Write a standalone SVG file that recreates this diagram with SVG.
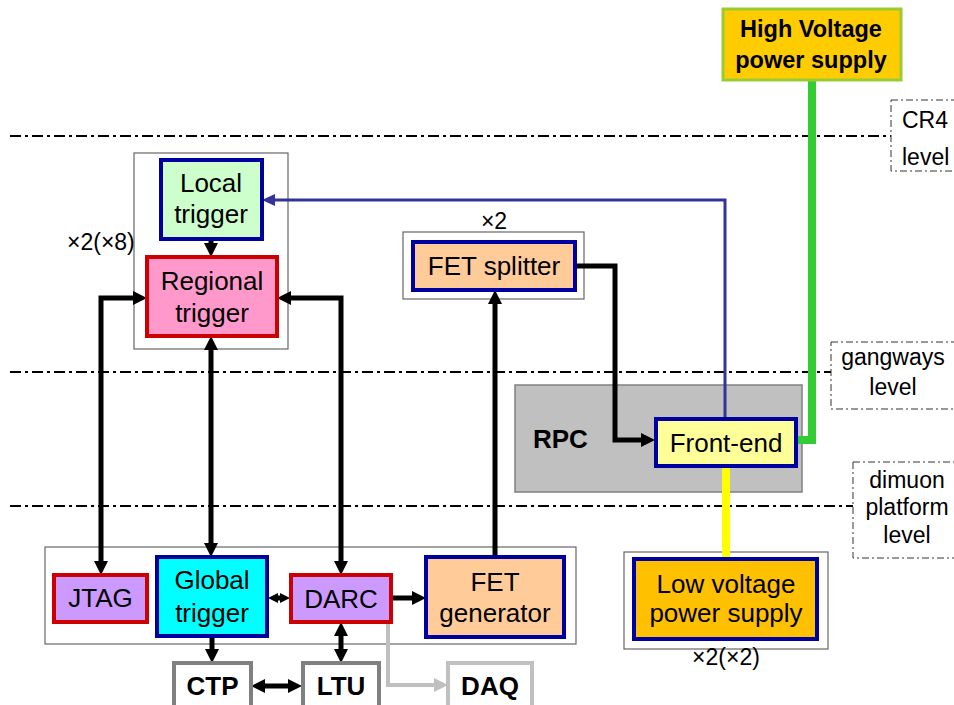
<svg xmlns="http://www.w3.org/2000/svg" width="954" height="705" viewBox="0 0 954 705">
<style>
text{font-family:"Liberation Sans",Arial,sans-serif;font-size:26px;fill:#000}
.b{font-weight:bold}
.m{text-anchor:middle}
.lvl{font-size:23px}
.cont{fill:#fff;stroke:#666;stroke-width:1.2}
.blue{stroke:#0000a0;stroke-width:4}
.red{stroke:#cc0000;stroke-width:4}
.gray{fill:#fff;stroke:#808080;stroke-width:4}
.dd{fill:none;stroke:#000;stroke-width:2.2;stroke-dasharray:11 4 3 4}
.lbox{fill:#fff;stroke:#333;stroke-width:1;stroke-dasharray:7 3 2 3}
.k{fill:none;stroke:#000;stroke-width:5}
</style>
<defs>
<marker id="ah" viewBox="0 0 14 14" refX="0" refY="7" markerWidth="14" markerHeight="14" markerUnits="userSpaceOnUse" orient="auto-start-reverse"><path d="M0,0 L14,7 L0,14 z" fill="#000"/></marker>
<marker id="ahs" viewBox="0 0 10 10" refX="0" refY="5" markerWidth="10" markerHeight="10" markerUnits="userSpaceOnUse" orient="auto-start-reverse"><path d="M0,0 L10,5 L0,10 z" fill="#000"/></marker>
<marker id="ahb" viewBox="0 0 13 12" refX="0" refY="6" markerWidth="13" markerHeight="12" markerUnits="userSpaceOnUse" orient="auto-start-reverse"><path d="M0,0 L13,6 L0,12 z" fill="#333399"/></marker>
<marker id="ahg" viewBox="0 0 14 14" refX="0" refY="7" markerWidth="14" markerHeight="14" markerUnits="userSpaceOnUse" orient="auto-start-reverse"><path d="M0,0 L14,7 L0,14 z" fill="#c0c0c0"/></marker>
</defs>
<rect width="954" height="705" fill="#fff"/>

<g id="levels">
<path class="dd" d="M10,136 H891"/>
<path class="dd" d="M10,372 H831"/>
<path class="dd" d="M10,506 H853"/>
<rect class="lbox" x="891" y="100" width="70" height="71"/>
<text class="lvl" x="902" y="128">CR4</text>
<text class="lvl" x="902" y="165">level</text>
<rect class="lbox" x="831" y="342" width="130" height="67"/>
<text class="lvl m" x="893" y="365">gangways</text>
<text class="lvl m" x="893" y="395">level</text>
<rect class="lbox" x="853" y="462" width="110" height="96"/>
<text class="lvl m" x="907" y="488">dimuon</text>
<text class="lvl m" x="907" y="515">platform</text>
<text class="lvl m" x="907" y="543">level</text>
</g>

<g id="containers">
<rect class="cont" x="134" y="153" width="154" height="196"/>
<text class="lvl" x="67" y="250">×2(×8)</text>
<rect class="cont" x="403" y="232" width="181" height="67"/>
<text class="lvl m" x="494" y="229">×2</text>
<rect class="cont" x="45" y="547" width="531" height="97"/>
<rect class="cont" x="624" y="552" width="204" height="97"/>
<text class="lvl m" x="726" y="665">×2(×2)</text>
</g>

<g id="rpc">
<rect x="515" y="385" width="287" height="107" fill="#c0c0c0" stroke="#808080" stroke-width="1.5"/>
<text class="b" x="533" y="448">RPC</text>
</g>

<g id="connectors">
<path class="k" d="M211,239 V243" marker-end="url(#ah)"/>
<path class="k" d="M101,561 V298 H133" marker-start="url(#ah)" marker-end="url(#ah)"/>
<path class="k" d="M341,561 V298 H291" marker-start="url(#ah)" marker-end="url(#ah)"/>
<path class="k" d="M211,350 V543" marker-start="url(#ah)" marker-end="url(#ah)"/>
<path class="k" d="M212,636 V649" marker-end="url(#ah)"/>
<path class="k" d="M265,686 H288" marker-start="url(#ah)" marker-end="url(#ah)"/>
<path class="k" d="M278,598 H280" marker-start="url(#ahs)" marker-end="url(#ahs)"/>
<path class="k" d="M391,598 H412" marker-end="url(#ah)"/>
<path class="k" d="M341,636 V649" marker-start="url(#ah)" marker-end="url(#ah)"/>
<path class="k" d="M495,557 V304" marker-end="url(#ah)"/>
<path class="k" d="M575,266 H615 V440 H641" marker-end="url(#ah)"/>
<path d="M388,622 V685 H434" fill="none" stroke="#c0c0c0" stroke-width="4" marker-end="url(#ahg)"/>
<path d="M725,419 V200 H275" fill="none" stroke="#333399" stroke-width="3" marker-end="url(#ahb)"/>
<path d="M812,80 V440 H797" fill="none" stroke="#33cc33" stroke-width="8"/>
<path d="M726,466 V559" fill="none" stroke="#ffff00" stroke-width="8"/>
</g>

<g id="hv">
<rect x="723" y="9" width="178" height="71" fill="#ffcc00" stroke="#99cc33" stroke-width="3"/>
<text class="b m" x="811" y="37" style="font-size:23.5px">High Voltage</text>
<text class="b m" x="811" y="68" style="font-size:23.5px">power supply</text>
</g>
<g id="local">
<rect class="blue" x="161" y="160" width="101" height="79" fill="#ccffcc"/>
<text class="m" x="211" y="192">Local</text>
<text class="m" x="211" y="223">trigger</text>
</g>
<g id="regional">
<rect class="red" x="147" y="257" width="130" height="79" fill="#ff99cc"/>
<text class="m" x="212" y="290">Regional</text>
<text class="m" x="212" y="322">trigger</text>
</g>
<g id="fetsplitter">
<rect class="blue" x="413" y="242" width="162" height="48" fill="#ffcc99"/>
<text class="m" x="494" y="275">FET splitter</text>
</g>
<g id="frontend">
<rect class="blue" x="656" y="419" width="140" height="47" fill="#ffff99"/>
<text class="m" x="726" y="452">Front-end</text>
</g>
<g id="jtag">
<rect class="red" x="54" y="575" width="93" height="47" fill="#cc99ff"/>
<text class="m" x="100.5" y="607">JTAG</text>
</g>
<g id="global">
<rect class="blue" x="157" y="557" width="110" height="79" fill="#00ffff"/>
<text class="m" x="212" y="589">Global</text>
<text class="m" x="212" y="622">trigger</text>
</g>
<g id="darc">
<rect class="red" x="291" y="575" width="100" height="47" fill="#cc99ff"/>
<text class="m" x="341" y="608">DARC</text>
</g>
<g id="fetgen">
<rect class="blue" x="426" y="557" width="138" height="80" fill="#ffcc99"/>
<text class="m" x="495" y="591">FET</text>
<text class="m" x="495" y="622">generator</text>
</g>
<g id="lv">
<rect class="blue" x="634" y="559" width="183" height="80" fill="#ffc000"/>
<text class="m" x="726" y="593">Low voltage</text>
<text class="m" x="726" y="622">power supply</text>
</g>
<g id="ctp">
<rect class="gray" x="174" y="663" width="77" height="50"/>
<text class="b m" x="212.5" y="695">CTP</text>
</g>
<g id="ltu">
<rect class="gray" x="303" y="663" width="76" height="50"/>
<text class="b m" x="341" y="695">LTU</text>
</g>
<g id="daq">
<rect x="448" y="663" width="84" height="50" fill="#fff" stroke="#c0c0c0" stroke-width="4"/>
<text class="b m" x="490" y="695">DAQ</text>
</g>
</svg>
